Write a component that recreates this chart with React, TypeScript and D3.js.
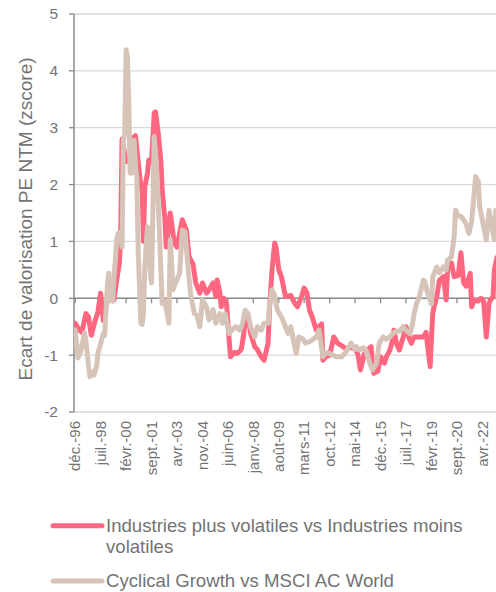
import React from "react";
import * as d3 from "d3";

const yTicks = [-2, -1, 0, 1, 2, 3, 4, 5];
const xTickDates = ["1996-12","1998-07","2000-02","2001-09","2003-04","2004-11","2006-06","2008-01","2009-08","2011-03","2012-10","2014-05","2015-12","2017-07","2019-02","2020-09","2022-04"];
const xTickLabels = ["déc.-96","juil.-98","févr.-00","sept.-01","avr.-03","nov.-04","juin-06","janv.-08","août-09","mars-11","oct.-12","mai-14","déc.-15","juil.-17","févr.-19","sept.-20","avr.-22"];

const seriesNames = ["Industries plus volatiles vs Industries moins volatiles", "Cyclical Growth vs MSCI AC World"];

const industriesSeries: [string, number][] = [
["1996-12",-0.44],["1997-03",-0.56],["1997-05",-0.6],["1997-08",-0.27],["1997-10",-0.33],["1997-12",-0.65],["1998-03",-0.39],["1998-05",-0.24],["1998-07",0.09],["1998-09",-0.39],["1998-12",-0.03],["1999-02",0.09],["1999-05",-0.03],["1999-07",0.32],["1999-09",0.62],["1999-10",1.1],["1999-11",2.8],["2000-02",2.4],["2000-05",2.5],["2000-08",2.84],["2000-09",2.86],["2000-11",2.4],["2001-01",1.96],["2001-02",1.9],["2001-03",1.0],["2001-04",1.96],["2001-06",2.2],["2001-07",2.43],["2001-09",2.4],["2001-11",3.26],["2001-12",3.28],["2002-02",2.9],["2002-04",2.4],["2002-05",1.9],["2002-07",1.4],["2002-08",0.9],["2002-11",1.5],["2003-02",0.97],["2003-04",0.9],["2003-08",1.38],["2003-11",1.2],["2004-01",0.73],["2004-04",0.6],["2004-06",0.27],["2004-09",0.09],["2004-11",0.27],["2005-02",0.09],["2005-04",0.15],["2005-07",0.27],["2005-09",0.03],["2005-10",0.32],["2005-12",0.1],["2006-01",-0.15],["2006-03",0.0],["2006-05",-0.09],["2006-07",-0.73],["2006-08",-1.03],["2006-11",-0.95],["2007-01",-0.97],["2007-04",-0.9],["2007-06",-0.62],["2007-07",-0.27],["2007-09",-0.3],["2007-11",-0.62],["2008-02",-0.85],["2008-04",-0.9],["2008-07",-1.03],["2008-09",-1.09],["2008-12",-0.79],["2009-01",-0.21],["2009-03",0.5],["2009-05",0.97],["2009-06",0.9],["2009-08",0.5],["2009-10",0.38],["2010-01",0.03],["2010-05",0.05],["2010-08",-0.09],["2010-10",-0.15],["2011-01",0.03],["2011-03",0.18],["2011-05",0.1],["2011-07",-0.21],["2011-09",-0.33],["2011-12",-0.56],["2012-02",-0.5],["2012-04",-0.45],["2012-05",-1.09],["2012-07",-1.03],["2012-10",-1.0],["2013-01",-0.68],["2013-04",-0.79],["2013-08",-0.85],["2013-11",-0.9],["2014-02",-0.85],["2014-05",-0.9],["2014-07",-0.97],["2014-09",-1.26],["2014-12",-0.97],["2015-02",-0.91],["2015-05",-0.85],["2015-06",-1.14],["2015-07",-1.32],["2015-10",-1.28],["2015-12",-1.03],["2016-03",-1.14],["2016-04",-1.05],["2016-07",-0.91],["2016-09",-0.73],["2016-10",-0.56],["2016-12",-0.8],["2017-02",-0.91],["2017-05",-0.68],["2017-07",-0.5],["2017-09",-0.68],["2017-11",-0.79],["2018-01",-0.68],["2018-04",-0.68],["2018-06",-0.68],["2018-08",-0.68],["2018-10",-0.6],["2019-01",-1.2],["2019-03",-0.27],["2019-04",-0.15],["2019-06",0.03],["2019-08",0.32],["2019-11",0.38],["2020-01",-0.03],["2020-02",0.5],["2020-05",0.62],["2020-07",0.38],["2020-10",0.4],["2020-12",0.8],["2021-02",0.27],["2021-04",0.21],["2021-07",0.44],["2021-08",-0.15],["2021-10",-0.03],["2022-01",-0.05],["2022-03",0.0],["2022-05",-0.05],["2022-07",-0.68],["2022-09",-0.09],["2022-10",-0.03],["2022-12",0.03],["2023-01",0.5],["2023-03",0.72]
];

const cyclicalSeries: [string, number][] = [
["1996-12",-0.56],["1997-02",-1.05],["1997-04",-0.95],["1997-07",-0.61],["1997-08",-0.75],["1997-10",-1.2],["1997-11",-1.38],["1998-01",-1.3],["1998-02",-1.35],["1998-04",-1.2],["1998-05",-0.97],["1998-07",-0.8],["1998-09",-0.62],["1998-10",-0.65],["1998-12",0.2],["1999-01",0.44],["1999-02",-0.03],["1999-04",-0.05],["1999-05",0.38],["1999-06",0.67],["1999-07",1.03],["1999-08",1.14],["1999-10",1.17],["1999-11",0.9],["1999-12",2.78],["2000-01",2.9],["2000-02",4.37],["2000-03",4.25],["2000-04",3.49],["2000-05",2.2],["2000-06",2.2],["2000-08",2.78],["2000-09",2.31],["2000-10",2.14],["2000-11",0.85],["2001-01",-0.44],["2001-02",-0.46],["2001-03",-0.27],["2001-04",0.55],["2001-06",1.26],["2001-07",0.73],["2001-09",0.27],["2001-11",2.84],["2002-01",2.2],["2002-03",1.14],["2002-05",-0.09],["2002-07",-0.05],["2002-10",-0.44],["2002-11",1.03],["2003-01",0.15],["2003-03",0.27],["2003-06",0.44],["2003-08",1.2],["2003-10",1.17],["2003-12",0.62],["2004-02",0.09],["2004-05",-0.27],["2004-07",-0.3],["2004-09",-0.5],["2004-11",-0.03],["2005-02",-0.15],["2005-04",-0.38],["2005-07",-0.2],["2005-09",-0.44],["2005-12",-0.27],["2006-02",-0.44],["2006-04",-0.27],["2006-07",-0.62],["2006-09",-0.56],["2006-12",-0.5],["2007-03",-0.56],["2007-05",-0.44],["2007-07",-0.21],["2007-09",-0.27],["2007-11",-0.5],["2008-02",-0.68],["2008-04",-0.5],["2008-07",-0.56],["2008-09",-0.44],["2008-12",-0.44],["2009-01",-0.15],["2009-03",0.15],["2009-05",0.05],["2009-07",-0.21],["2009-10",-0.33],["2009-11",-0.38],["2010-03",-0.62],["2010-05",-0.5],["2010-09",-0.97],["2010-11",-0.68],["2011-02",-0.72],["2011-04",-0.79],["2011-08",-0.75],["2011-12",-0.68],["2012-02",-0.56],["2012-05",-1.03],["2012-07",-0.95],["2012-10",-0.97],["2013-03",-1.03],["2013-07",-1.03],["2013-10",-0.95],["2014-02",-0.79],["2014-05",-0.9],["2014-06",-0.85],["2014-08",-0.91],["2014-11",-0.87],["2015-01",-0.91],["2015-04",-1.14],["2015-06",-1.26],["2015-09",-1.14],["2015-11",-0.79],["2016-02",-0.68],["2016-04",-0.72],["2016-07",-0.68],["2016-09",-0.62],["2016-12",-0.58],["2017-02",-0.58],["2017-05",-0.5],["2017-07",-0.56],["2017-10",-0.62],["2017-12",-0.44],["2018-01",-0.27],["2018-03",-0.09],["2018-05",0.03],["2018-08",0.32],["2018-09",0.3],["2018-11",0.1],["2019-01",-0.03],["2019-02",-0.1],["2019-03",0.38],["2019-06",0.55],["2019-08",0.45],["2019-11",0.55],["2020-01",0.5],["2020-02",0.67],["2020-05",0.73],["2020-07",1.08],["2020-08",1.55],["2020-10",1.45],["2020-12",1.44],["2021-02",1.38],["2021-04",1.3],["2021-06",1.14],["2021-08",1.35],["2021-09",1.61],["2021-11",2.14],["2022-01",2.05],["2022-02",1.61],["2022-04",1.38],["2022-07",1.03],["2022-09",1.55],["2022-11",1.26],["2023-01",1.03],["2023-02",1.55]
];

const RED = "#FF6680";
const BEIGE = "#D6C4B8";
const FONT = "'Liberation Sans', Arial, sans-serif";
const TEXT = "#737373";

export default function App() {
  const parse = d3.timeParse("%Y-%m");
  const plotLeft = 74, plotRight = 496, plotTop = 14, plotBottom = 412;
  const x = d3.scaleTime().domain([parse("1996-12")!, parse("2022-04")!]).range([75.2, 482.3]);
  const y = d3.scaleLinear().domain([-2, 5]).range([plotBottom, plotTop]);
  const line = d3.line<[string, number]>().x(d => x(parse(d[0])!)).y(d => y(d[1]));

  return (
    <svg width={496} height={592} style={{ position: "absolute", left: 0, top: 0 }} fontFamily={FONT}>
      <defs>
        <clipPath id="plotclip"><rect x={plotLeft} y={0} width={plotRight - plotLeft} height={592} /></clipPath>
      </defs>
      {yTicks.map(t => (
        <line key={"g" + t} x1={plotLeft} x2={plotRight} y1={y(t)} y2={y(t)} stroke="#D9D9D9" strokeWidth={1.3} />
      ))}
      {yTicks.map(t => (
        <g key={"yt" + t}>
          <line x1={69} x2={plotLeft} y1={y(t)} y2={y(t)} stroke="#8A8A8A" strokeWidth={1.3} />
          <text x={58} y={y(t)} dy="0.35em" textAnchor="end" fontSize={15.5} fill={TEXT}>{t}</text>
        </g>
      ))}
      <line x1={plotLeft} x2={plotRight} y1={y(0)} y2={y(0)} stroke="#8A8A8A" strokeWidth={1.5} />
      {xTickDates.map((d, i) => {
        const xx = x(parse(d)!);
        return (
          <g key={"xt" + d}>
            <line x1={xx} x2={xx} y1={y(0)} y2={y(0) + 5} stroke="#8A8A8A" strokeWidth={1.3} />
            <text transform={`translate(${xx},${plotBottom + 9}) rotate(-90)`} textAnchor="end" dy="0.35em" fontSize={15} fill={TEXT}>{xTickLabels[i]}</text>
          </g>
        );
      })}
      <line x1={plotLeft} x2={plotLeft} y1={plotTop} y2={plotBottom} stroke="#8A8A8A" strokeWidth={1.5} />
      <g clipPath="url(#plotclip)">
        <path d={line(industriesSeries)!} fill="none" stroke={RED} strokeWidth={5} strokeLinejoin="round" strokeLinecap="round" />
        <path d={line(cyclicalSeries)!} fill="none" stroke={BEIGE} strokeWidth={5} strokeLinejoin="round" strokeLinecap="round" />
      </g>
      <text transform="translate(32,219) rotate(-90)" textAnchor="middle" fontSize={19} fill={TEXT}>Ecart de valorisation PE NTM (zscore)</text>
      <line x1={53} x2={102} y1={525.7} y2={525.7} stroke={RED} strokeWidth={5} strokeLinecap="round" />
      <text x={106} y={531.7} fontSize={18.6} fill={TEXT}>Industries plus volatiles vs Industries moins</text>
      <text x={106} y={553.3} fontSize={18.6} fill={TEXT}>volatiles</text>
      <line x1={53} x2={102} y1={581} y2={581} stroke={BEIGE} strokeWidth={5} strokeLinecap="round" />
      <text x={106} y={587.3} fontSize={18.6} fill={TEXT}>{seriesNames[1]}</text>
    </svg>
  );
}
